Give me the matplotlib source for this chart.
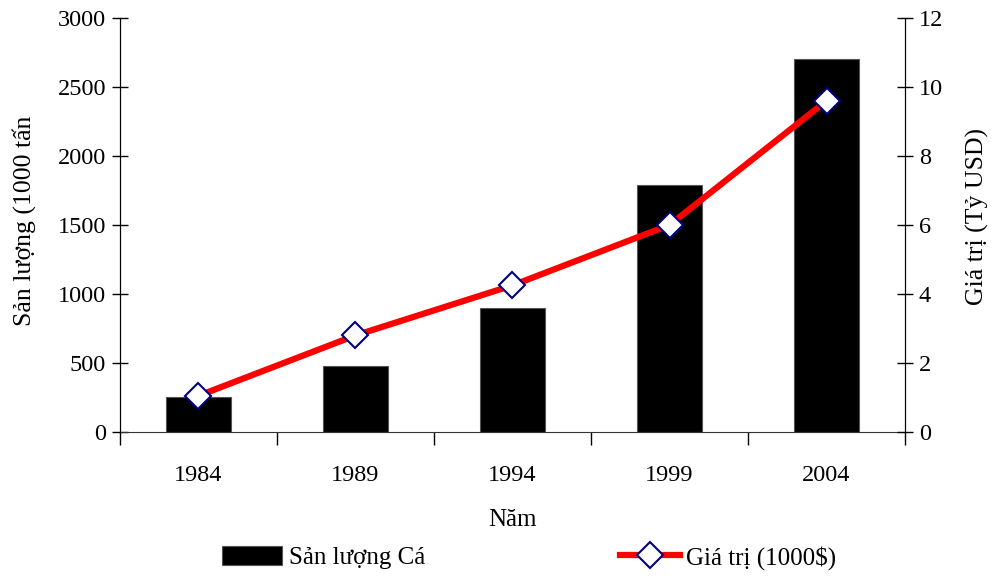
import numpy as np, matplotlib.pyplot as plt
from matplotlib.ticker import FixedLocator

plt.rcParams['font.family'] = ['Liberation Serif', 'DejaVu Serif']

years = ['1984', '1989', '1994', '1999', '2004']
san_luong = [250, 480, 900, 1790, 2700]      # 1000 tan
gia_tri = [1.05, 2.8, 4.25, 6.0, 9.6]        # ty USD

fig = plt.figure(figsize=(9.93, 5.79), dpi=100)
ax = fig.add_axes([0.1208, 0.2539, 0.7906, 0.715])
ax2 = ax.twinx()

x = np.arange(len(years))
bars = ax.bar(x, san_luong, width=0.41, color='black', edgecolor='#555555',
              linewidth=0.8, label='Sản lượng Cá')
line, = ax2.plot(x, gia_tri, color='#ff0000', lw=4.5, marker='D', ms=13.5,
                 mfc='white', mec='#000080', mew=1.5, label='Giá trị (1000$)')

ax.set_xlim(-0.5, len(years) - 0.5)
ax.set_ylim(0, 3000)
ax.set_yticks(np.arange(0, 3001, 500))
ax2.set_ylim(0, 12)
ax2.set_yticks(np.arange(0, 13, 2))

ax.set_xticks(x)
ax.set_xticklabels(years)
ax.xaxis.set_minor_locator(FixedLocator(np.arange(-0.5, len(years), 1.0)))
ax.tick_params(axis='x', which='major', length=0, pad=24, labelsize=17.5)
ax.tick_params(axis='x', which='minor', length=9, direction='out', width=1)
ax.tick_params(axis='y', direction='inout', length=12, width=1, labelsize=17.5, pad=4)
ax2.tick_params(axis='y', direction='inout', length=12, width=1, labelsize=17.5, pad=4)

for a in (ax, ax2):
    a.spines['top'].set_visible(False)
ax2.spines['bottom'].set_visible(False)
ax.spines['bottom'].set_color('#333333')

ax.set_xlabel('Năm', fontsize=18, labelpad=16)
ax.set_ylabel('Sản lượng (1000 tấn', fontsize=18.5)
ax.yaxis.set_label_coords(-0.107, 0.51)
ax2.set_ylabel('Giá trị (Tỷ USD)', fontsize=18.5)
ax2.yaxis.set_label_coords(1.077, 0.52)

fig.legend([bars, line], ['Sản lượng Cá', 'Giá trị (1000$)'], ncol=2,
           loc='center', bbox_to_anchor=(0.533, 0.037), frameon=False,
           fontsize=18, handlelength=2.4, handleheight=0.75, columnspacing=7.8,
           handletextpad=0.25)

fig.savefig('out.png', dpi=100)
